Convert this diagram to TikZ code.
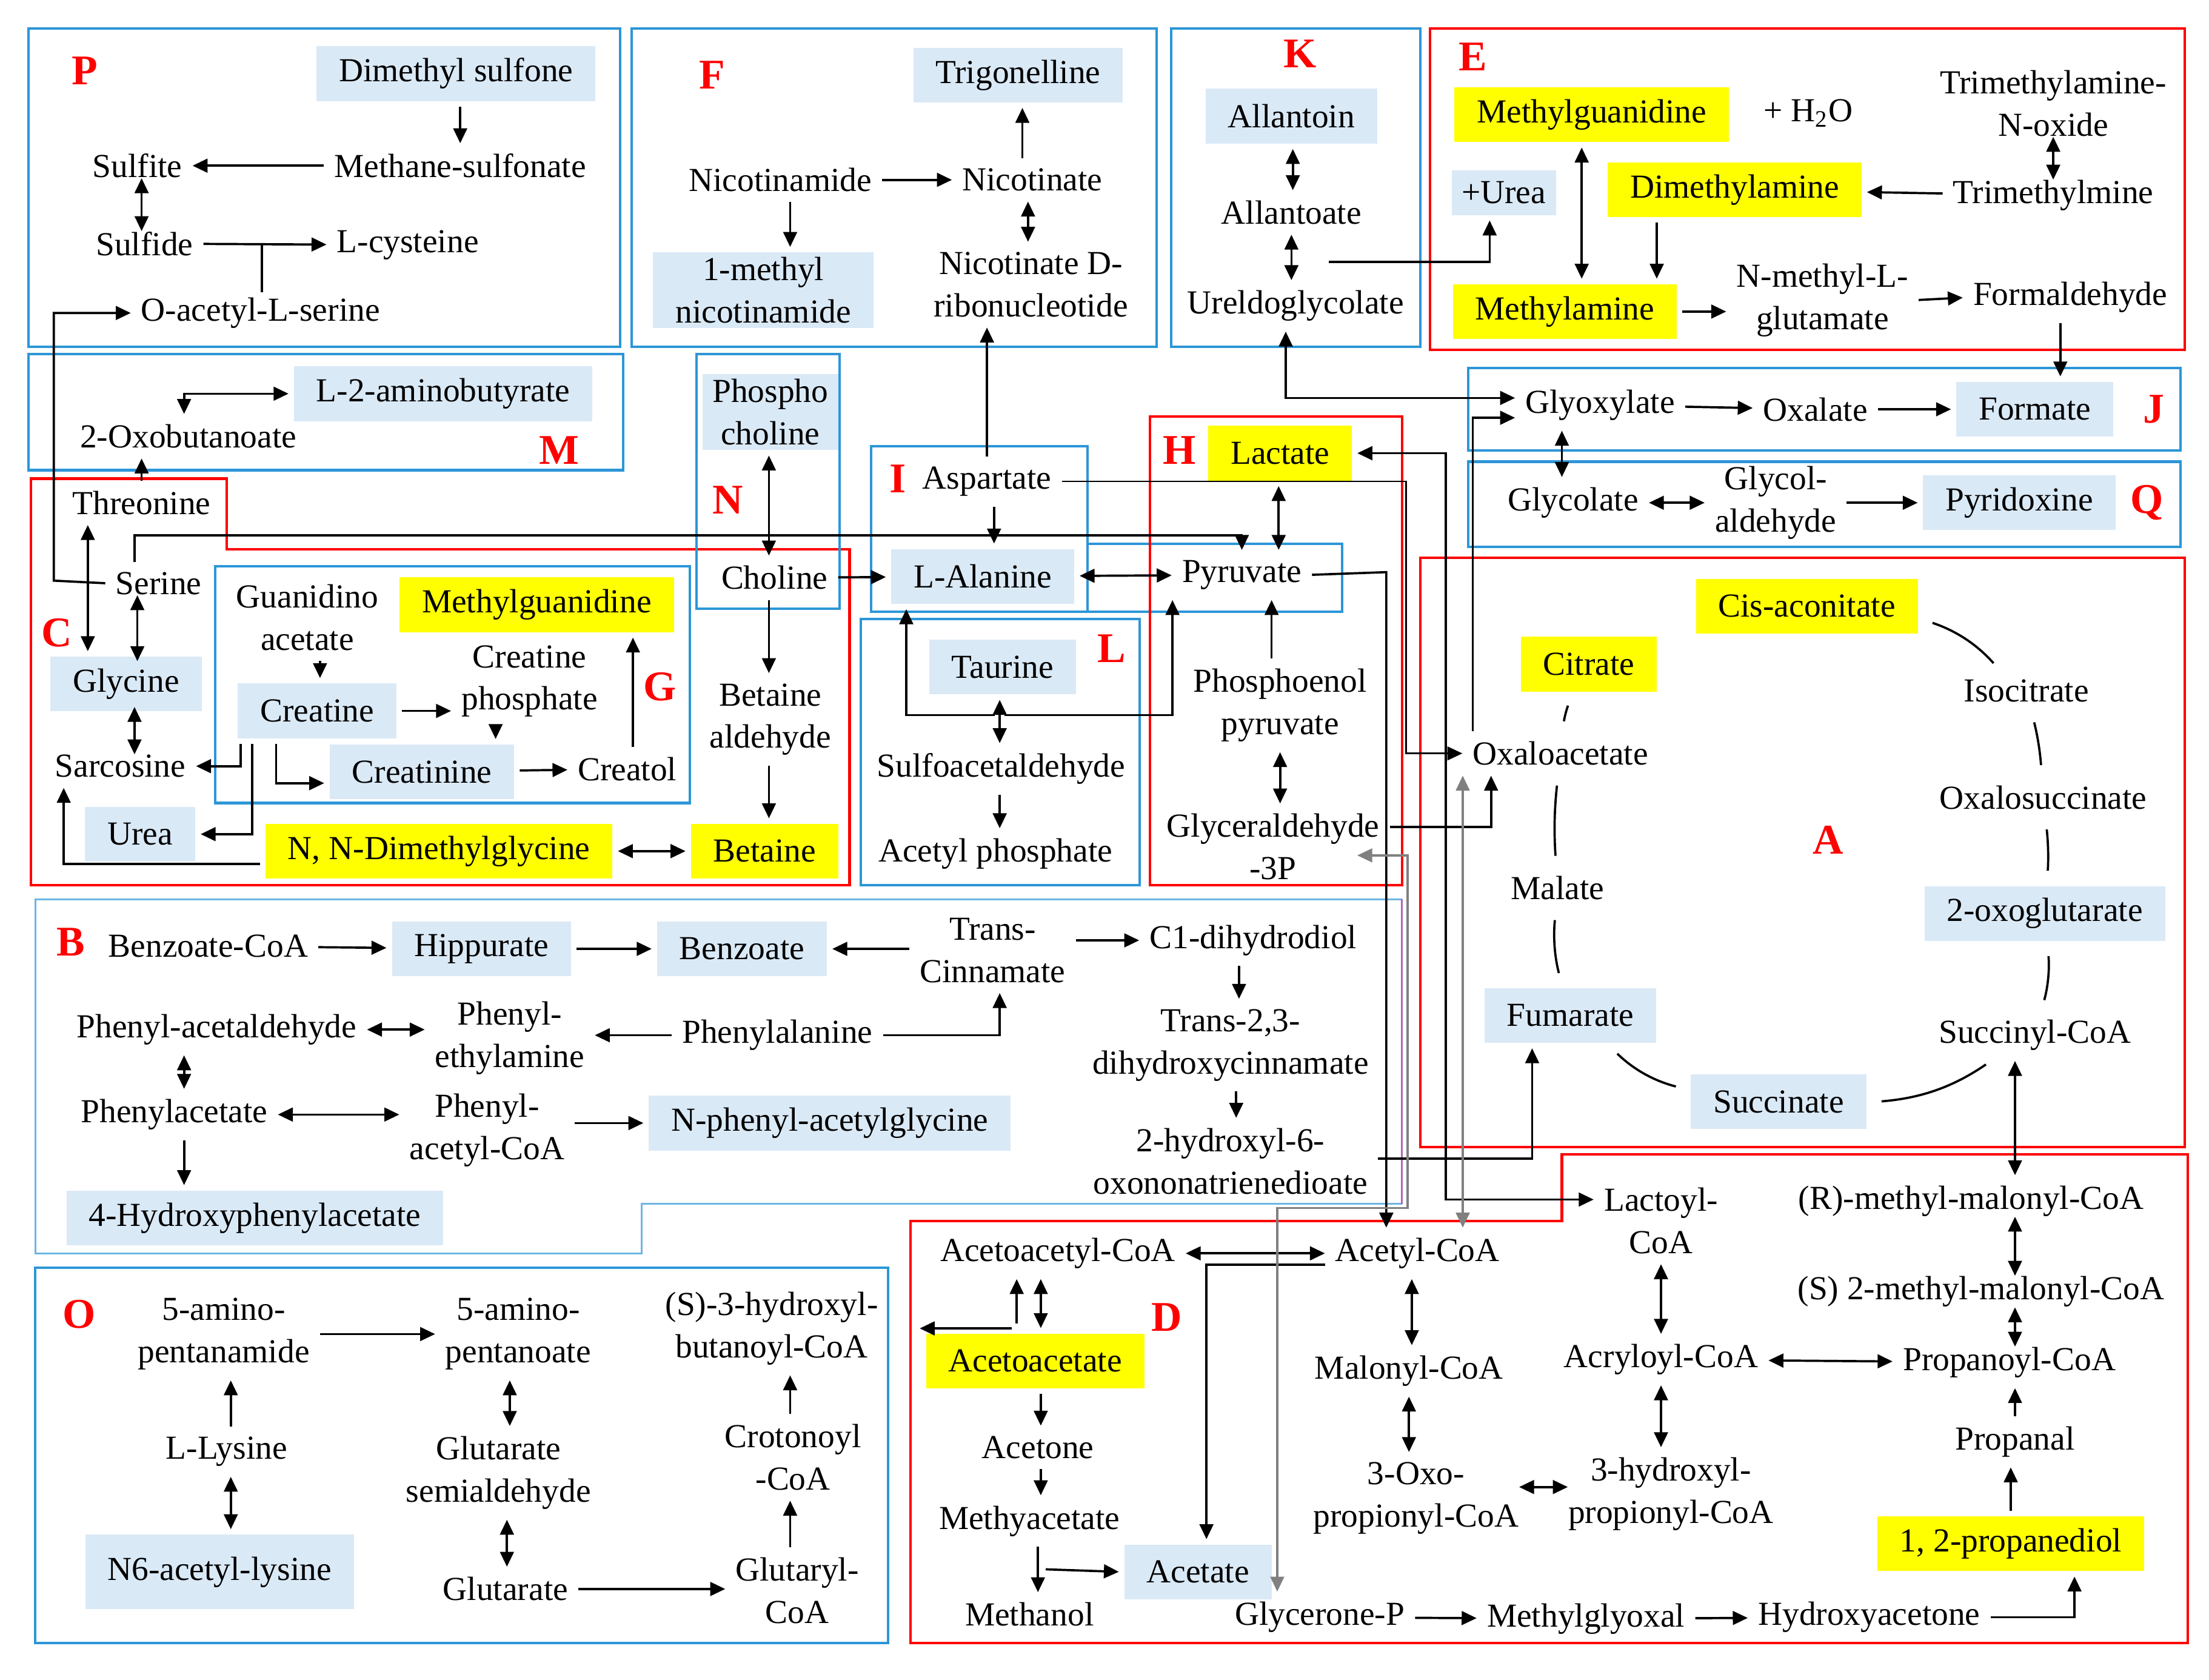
\documentclass[tikz,border=0pt]{standalone}
\usepackage{fontspec}
\setmainfont{Liberation Serif}
\usetikzlibrary{positioning,calc,arrows.meta}
\definecolor{lblue}{RGB}{218,233,246}
\definecolor{bframe}{RGB}{45,150,215}
\definecolor{hlyel}{RGB}{255,255,0}
\tikzset{
  met/.style={inner sep=2pt, align=center, font=\fontsize{13.5}{17}\selectfont},
  lb/.style={met, fill=lblue, inner xsep=9pt, minimum height=22pt},
  yl/.style={met, fill=hlyel, inner xsep=9pt, minimum height=22pt},
  tag/.style={text=red, font=\fontsize{17}{17}\selectfont\bfseries},
  bbox/.style={draw=bframe, line width=1pt},
  rbox/.style={draw=red, line width=1pt},
  rx/.style={-{Triangle[length=6pt,width=5.5pt]}, line width=0.9pt, shorten >=2pt, shorten <=2pt},
  rv/.style={{Triangle[length=6pt,width=5.5pt]}-{Triangle[length=6pt,width=5.5pt]}, line width=0.9pt, shorten >=2pt, shorten <=2pt},
  rvs/.style={rv, shorten >=-2pt, shorten <=-2pt},
  cyc/.style={line width=0.9pt, shorten >=6pt, shorten <=6pt},
}
\begin{document}
\begin{tikzpicture}[x=0.02cm,y=-0.02cm]
\useasboundingbox (0,0) rectangle (1560,1186);

% panel frames
\draw[bbox] (20,20) rectangle (438,245);
\draw[bbox] (20,250) rectangle (440,332);
\draw[rbox] (22,338) -- (160,338) -- (160,388) -- (600,388) -- (600,625) -- (22,625) -- cycle;
\draw[bbox] (152,400) rectangle (487,567);
\draw[bbox] (492,250) rectangle (593,430);
\draw[bbox] (446,20) rectangle (817,245);
\draw[bbox] (615,315) rectangle (768,432);
\draw[bbox] (768,384) rectangle (948,432);
\draw[rbox] (812,294) rectangle (990,625);
\draw[bbox] (608,437) rectangle (805,625);
\draw[bbox] (827,20) rectangle (1003,245);
\draw[rbox] (1010,20) rectangle (1543,247);
\draw[bbox] (1037,260) rectangle (1540,318);
\draw[bbox] (1037,326) rectangle (1540,386);
\draw[rbox] (1003,394) rectangle (1543,810);
\draw[draw=bframe!70, line width=0.8pt] (990,850) -- (453,850) -- (453,885) -- (25,885) -- (25,635) -- (990,635);
\draw[draw=violet!60, line width=0.8pt] (990,635) -- (990,850);
\draw[bbox] (25,895) rectangle (627,1160);
\draw[rbox] (643,862) -- (1103,862) -- (1103,815) -- (1545,815) -- (1545,1160) -- (643,1160) -- cycle;

% P
\node[tag] at (60,50) {P};
\node[lb] (dmsulf) at (322,52) {Dimethyl sulfone};
\node[met] (msulf) at (325,117) {Methane-sulfonate};
\node[met] (sulfite) at (97,117) {Sulfite};
\node[met] (sulfide) at (102,172) {Sulfide};
\node[met] (lcys) at (288,173) {L-cysteine};
\node[met] (oacser) at (184,221) {O-acetyl-L-serine};
\draw[rx] (dmsulf.south -| 325,0) -- (msulf.north -| 325,0);
\draw[rx] (msulf) -- (sulfite);
\draw[rvs] (sulfite.south -| 100,0) -- (sulfide.north -| 100,0);
\draw[rx] (sulfide) -- (lcys);
\draw[line width=0.9pt] (sulfide.east -| 185,0) -- (oacser.north -| 185,0);

% M
\node[tag] at (395,318) {M};
\node[lb] (abut) at (313,278) {L-2-aminobutyrate};
\node[met] (oxobut) at (133,308) {2-Oxobutanoate};
\draw[rv] (oxobut.north -| 130,0) |- (abut.west);

% C
\node[tag] at (40,447) {C};
\node[met] (thr) at (100,355) {Threonine};
\node[met] (serine) at (112,412) {Serine};
\node[lb] (glycine) at (89,483) {Glycine};
\node[met] (sarc) at (85,541) {Sarcosine};
\node[lb] (urea) at (99,589) {Urea};
\draw[rx] (thr.north -| 100,0) -- (oxobut.south -| 100,0);
\draw[rv] (thr.south -| 62,0) -- (glycine.north -| 62,0);
\draw[rvs] (serine.south -| 97,0) -- (glycine.north -| 97,0);
\draw[rvs] (glycine.south -| 95,0) -- (sarc.north -| 95,0);
\draw[rx] (serine.west) -- (38,410) |- (oacser.west);

% G
\node[tag] at (466,485) {G};
\node[met] (guac) at (217,436) {Guanidino\\acetate};
\node[yl] (mgua2) at (379,427) {Methylguanidine};
\node[met] (crp) at (374,481) {Creatine\\phosphate};
\node[lb] (creatine) at (224,502) {Creatine};
\node[lb] (creatinine) at (298,545) {Creatinine};
\node[met] (creatol) at (443,543) {Creatol};
\draw[rx] (guac.south -| 226,0) -- (creatine.north -| 226,0);
\draw[rx] (creatine.east) -- (crp.west |- creatine.east);
\draw[rx] (crp.south -| 350,0) -- (creatinine.north -| 350,0);
\draw[rx] (creatinine) -- (creatol);
\draw[rx] (creatol.north -| 447,0) -- (mgua2.south -| 447,0);
\draw[rx] (creatine.south -| 170,0) |- (sarc.east);
\draw[rx] (creatine.south -| 178,0) |- (urea.east);
\draw[rx] (creatine.south -| 195,0) |- (creatinine.west |- 0,553);
\node[yl] (nndmg) at (310,601) {N, N-Dimethylglycine};
\node[yl] (betaine) at (540,601) {Betaine};
\draw[rv] (nndmg) -- (betaine);
\draw[rx] (nndmg.west |- 0,610) -| (sarc.south -| 45,0);

% N
\node[tag] at (514,353) {N};
\node[lb, inner xsep=4pt] (pchol) at (544,291) {Phospho\\choline};
\node[met] (choline) at (547,408) {Choline};
\node[met] (betald) at (544,508) {Betaine\\aldehyde};
\draw[rv] (pchol.south -| 543,0) -- (choline.north -| 543,0);
\draw[rx] (choline.south -| 543,0) -- (betald.north -| 543,0);
\draw[rx] (betald.south -| 543,0) -- (betaine.north -| 543,0);

% F
\node[tag] at (503,53) {F};
\node[lb] (trig) at (719,53) {Trigonelline};
\node[met] (nicam) at (551,127) {Nicotinamide};
\node[met] (nicot) at (729,127) {Nicotinate};
\node[lb] (mnicam) at (539,205) {1-methyl\\nicotinamide};
\node[met] (nicrib) at (728,201) {Nicotinate D-\\ribonucleotide};
\draw[rx] (nicam) -- (nicot);
\draw[rx] (nicot.north -| 722,0) -- (trig.south -| 722,0);
\draw[rv] (nicot.south -| 726,0) -- (nicrib.north -| 726,0);
\draw[rx] (nicam.south -| 558,0) -- (mnicam.north -| 558,0);

% I
\node[tag] at (634,338) {I};
\node[met] (asp) at (697,340) {Aspartate};
\node[lb] (lala) at (694,407) {L-Alanine};
\draw[rx] (asp.north -| 697,0) -- (nicrib.south -| 697,0);
\draw[rx] (asp.south -| 702,0) -- (lala.north -| 702,0);
\draw[rx] (choline) -- (lala);

% H
\node[tag] at (833,318) {H};
\node[yl] (lact) at (904,320) {Lactate};
\node[met] (pyruv) at (877,406) {Pyruvate};
\node[met] (pep) at (904,498) {Phosphoenol\\pyruvate};
\node[met] (gald) at (899,598) {Glyceraldehyde\\-3P};
\coordinate (g3p) at (955,604);
\draw[rv] (lala) -- (pyruv);
\draw[rv] (lact.south -| 903,0) -- (pyruv.north -| 903,0);
\draw[rx] (pep.north -| 898,0) -- (pyruv.south -| 898,0);
\draw[rv] (pep.south -| 904,0) -- (gald.north -| 904,0);
\draw[rx] (serine.north -| 95,0) -- (95,378) -| (pyruv.north);

% L
\node[tag] at (785,458) {L};
\node[lb] (taur) at (708,471) {Taurine};
\node[met] (sulfo) at (707,543) {Sulfoacetaldehyde};
\node[met] (acp) at (703,603) {Acetyl phosphate};
\coordinate (tj) at (706,505);
\draw[rv] (taur.south -| 706,0) -- (sulfo.north -| 706,0);
\draw[rx] (sulfo.south -| 706,0) -- (acp.north -| 706,0);
\draw[rx] (tj) -- (640,505) -- (lala.south -| 640,0);
\draw[rx] (tj) -- (828,505) -- (pyruv.south -| 828,0);

% K
\node[tag] at (918,38) {K};
\node[lb] (allan) at (912,82) {Allantoin};
\node[met] (allat) at (912,150) {Allantoate};
\node[met] (urel) at (915,216) {Ureldoglycolate};
\coordinate (ku) at (935,185);
\draw[rv] (allan.south -| 913,0) -- (allat.north -| 913,0);
\draw[rv] (allat.south -| 912,0) -- (urel.north -| 912,0);

% E
\node[tag] at (1040,40) {E};
\node[yl] (mgua1) at (1124,81) {Methylguanidine};
\node[met] (h2o) at (1277,80) {+ H\textsubscript{2}O};
\node[met] (tmao) at (1450,73) {Trimethylamine-\\N-oxide};
\node[met] (tmm) at (1450,138) {Trimethylmine};
\node[yl] (dma) at (1225,134) {Dimethylamine};
\node[lb, inner xsep=4pt, minimum height=18pt] (purea) at (1062,136) {+Urea};
\node[yl] (mam) at (1105,220) {Methylamine};
\node[met] (nmg) at (1287,212) {N-methyl-L-\\glutamate};
\node[met] (fald) at (1462,210) {Formaldehyde};
\draw[rvs] (tmao.south) -- (tmm.north);
\draw[rx] (tmm) -- (dma);
\draw[rx] (dma.south -| 1170,0) -- (mam.north -| 1170,0);
\draw[rv] (mgua1.south -| 1117,0) -- (mam.north -| 1117,0);
\draw[rx] (mam.east) -- (nmg.west |- mam.east);
\draw[rx] (nmg.east) -- (fald.west);
\draw[rx] (ku) -| (purea.south -| 1052,0);

% J and Q
\node[tag] at (1521,289) {J};
\node[met] (glyox) at (1130,286) {Glyoxylate};
\node[met] (oxal) at (1282,289) {Oxalate};
\node[lb] (formate) at (1437,289) {Formate};
\node[tag] at (1516,355) {Q};
\node[met] (glycol) at (1111,355) {Glycolate};
\node[met] (glyald) at (1254,355) {Glycol-\\aldehyde};
\node[lb] (pyrid) at (1426,355) {Pyridoxine};
\draw[rx] (glyox) -- (oxal);
\draw[rx] (oxal) -- (formate);
\draw[rx] (fald.south -| 1455,0) -- (formate.north -| 1455,0);
\draw[rv] (glycol) -- (glyald);
\draw[rx] (glyald) -- (pyrid);
\draw[rv] (glyox.south -| 1103,0) -- (glycol.north -| 1103,0);
\draw[rv] (urel.south -| 908,0) |- (glyox.west |- 0,281);

% A
\node[tag] at (1291,593) {A};
\node[yl] (cisac) at (1276,428) {Cis-aconitate};
\node[yl] (cit) at (1122,469) {Citrate};
\node[met] (isocit) at (1431,488) {Isocitrate};
\node[met] (oxac) at (1102,532) {Oxaloacetate};
\node[met] (oxsuc) at (1443,563) {Oxalosuccinate};
\node[met] (malate) at (1100,627) {Malate};
\node[lb] (ogl) at (1444,645) {2-oxoglutarate};
\node[lb] (fum) at (1109,717) {Fumarate};
\node[met] (succoa) at (1437,731) {Succinyl-CoA};
\node[lb] (succ) at (1256,778) {Succinate};
\draw[cyc] (oxac) to[bend left=10] (cit);
\draw[cyc] (cisac) to[bend left=15] (isocit);
\draw[cyc] (isocit) to[bend left=5] (oxsuc);
\draw[cyc] (oxsuc) to[bend left=5] (ogl);
\draw[cyc] (ogl) to[bend left=10] (succoa);
\draw[cyc] (succoa) to[bend left=15] (succ);
\draw[cyc] (succ) to[bend left=15] (fum);
\draw[cyc] (fum) to[bend left=10] (malate);
\draw[cyc] (malate) to[bend left=5] (oxac);

% B
\node[tag] at (50,665) {B};
\node[met] (bzcoa) at (147,668) {Benzoate-CoA};
\node[lb] (hipp) at (340,670) {Hippurate};
\node[lb] (bz) at (524,670) {Benzoate};
\node[met] (tcin) at (701,671) {Trans-\\Cinnamate};
\node[met] (c1d) at (885,664) {C1-dihydrodiol};
\node[met] (pacal) at (153,727) {Phenyl-acetaldehyde};
\node[met] (pea) at (360,733) {Phenyl-\\ethylamine};
\node[met] (phe) at (549,731) {Phenylalanine};
\node[met] (t23) at (869,738) {Trans-2,3-\\dihydroxycinnamate};
\node[met] (hod) at (869,820) {2-hydroxyl-6-\\oxononatrienedioate};
\node[met] (pac) at (123,787) {Phenylacetate};
\node[met] (pacoa) at (344,798) {Phenyl-\\acetyl-CoA};
\node[lb] (napg) at (586,793) {N-phenyl-acetylglycine};
\node[lb] (hpa) at (180,860) {4-Hydroxyphenylacetate};
\draw[rx] (bzcoa) -- (hipp);
\draw[rx] (hipp) -- (bz);
\draw[rx] (tcin.west |- bz) -- (bz);
\draw[rx] (tcin.east |- c1d) -- (c1d);
\draw[rx] (c1d.south -| 875,0) -- (t23.north -| 875,0);
\draw[rx] (t23.south -| 873,0) -- (hod.north -| 873,0);
\draw[rv] (pacal.east) -- (pea.west |- pacal.east);
\draw[rx] (phe.west) -- (pea.east |- phe.west);
\draw[rx] (phe.east) -| (tcin.south -| 706,0);
\draw[rv] (pacal.south -| 130,0) -- (pac.north -| 130,0);
\draw[rv] (pac.east) -- (pacoa.west |- pac.east);
\draw[rx] (pacoa.east |- napg) -- (napg);
\draw[rx] (pac.south -| 130,0) -- (hpa.north -| 130,0);
\draw[rx] (hod.east |- 0,818) -| (fum.south -| 1082,0);

% O
\node[tag] at (56,928) {O};
\node[met] (apm) at (158,942) {5-amino-\\pentanamide};
\node[met] (apo) at (366,942) {5-amino-\\pentanoate};
\node[met] (shb) at (545,938) {(S)-3-hydroxyl-\\butanoyl-CoA};
\node[met] (lys) at (160,1025) {L-Lysine};
\node[lb, minimum height=30pt] (n6) at (155,1110) {N6-acetyl-lysine};
\node[met] (gsa) at (352,1040) {Glutarate\\semialdehyde};
\node[met] (glut) at (357,1122) {Glutarate};
\node[met] (glutcoa) at (563,1123) {Glutaryl-\\CoA};
\node[met] (crot) at (560,1029) {Crotonoyl\\-CoA};
\draw[rx] (apm) -- (apo);
\draw[rx] (lys.north -| 163,0) -- (apm.south -| 163,0);
\draw[rv] (lys.south -| 163,0) -- (n6.north -| 163,0);
\draw[rv] (apo.south -| 360,0) -- (gsa.north -| 360,0);
\draw[rv] (gsa.south -| 358,0) -- (glut.north -| 358,0);
\draw[rx] (glut.east) -- (glutcoa.west |- glut.east);
\draw[rx] (glutcoa.north -| 558,0) -- (crot.south -| 558,0);
\draw[rx] (crot.north -| 558,0) -- (shb.south -| 558,0);

% D and propanoate
\node[tag] at (824,930) {D};
\node[met] (aacoa) at (747,885) {Acetoacetyl-CoA};
\node[met] (acoa) at (1001,885) {Acetyl-CoA};
\node[yl] (aac) at (731,961) {Acetoacetate};
\node[met] (acetone) at (733,1022) {Acetone};
\node[met] (meac) at (727,1074) {Methyacetate};
\node[met] (meoh) at (727,1140) {Methanol};
\node[lb] (acet) at (846,1110) {Acetate};
\node[met] (malcoa) at (995,968) {Malonyl-CoA};
\node[met] (oxpc) at (1000,1058) {3-Oxo-\\propionyl-CoA};
\node[met] (hpc) at (1180,1055) {3-hydroxyl-\\propionyl-CoA};
\node[met] (acrc) at (1173,960) {Acryloyl-CoA};
\node[met] (lactoyl) at (1173,862) {Lactoyl-\\CoA};
\node[met] (propc) at (1419,962) {Propanoyl-CoA};
\node[met] (rmm) at (1392,848) {(R)-methyl-malonyl-CoA};
\node[met] (smm) at (1399,912) {(S) 2-methyl-malonyl-CoA};
\node[met] (propal) at (1423,1018) {Propanal};
\node[yl] (pdiol) at (1420,1090) {1, 2-propanediol};
\node[met] (glyp) at (932,1142) {Glycerone-P};
\node[met] (mgly) at (1120,1143) {Methylglyoxal};
\node[met] (hyac) at (1320,1142) {Hydroxyacetone};
\coordinate (dj) at (718,938);
\coordinate (dl) at (646,938);
\coordinate (mj) at (735,1108);
\draw[rv] (aacoa) -- (acoa);
\draw[rv] (aacoa.south -| 735,0) -- (aac.north -| 735,0);
\draw[rx] (dj) -- (aacoa.south -| 718,0);
\draw[rx] (dj) -- (dl);
\draw[rx] (aac.south -| 735,0) -- (acetone.north -| 735,0);
\draw[rx] (acetone.south -| 735,0) -- (meac.north -| 735,0);
\draw[rx] (meac.south -| 733,0) -- (meoh.north -| 733,0);
\draw[rx] (mj) -- (acet.west);
\draw[rx] (acoa.west |- 0,893) -| (acet.north -| 852,0);
\draw[rx] (pyruv.east) -- (979,404) -- (acoa.north -| 979,0);
\draw[rv] (acoa.south -| 997,0) -- (malcoa.north -| 997,0);
\draw[rv] (malcoa.south -| 995,0) -- (oxpc.north -| 995,0);
\draw[rvs] (oxpc.east |- 0,1050) -- (hpc.west |- 0,1050);
\draw[rv] (lactoyl.south) -- (acrc.north);
\draw[rv] (acrc.south) -- (hpc.north -| acrc.south);
\draw[rv] (acrc) -- (propc);
\draw[rv] (succoa.south -| 1423,0) -- (rmm.north -| 1423,0);
\draw[rvs] (rmm.south -| 1423,0) -- (smm.north -| 1423,0);
\draw[rvs] (smm.south -| 1423,0) -- (propc.north -| 1423,0);
\draw[rx] (propal.north -| 1423,0) -- (propc.south -| 1423,0);
\draw[rx] (pdiol.north -| 1420,0) -- (propal.south -| 1420,0);
\draw[rx] (glyp) -- (mgly);
\draw[rx] (mgly) -- (hyac);
\draw[rx] (hyac.east) -| (pdiol.south -| 1465,0);

% long connectors round the TCA cycle
\draw[rx, line width=0.6pt] (asp.east) -- (993,340) |- (oxac.west);
\draw[rv] (lact.east) -- (1021,320) |- (lactoyl.west |- 0,847);
\draw[rx] (gald.east |- 0,584) -| (oxac.south -| 1053,0);
\draw[rv, draw=gray, line width=0.8pt] (g3p) -- (994,604) -- (994,853) -- (902,853) -- (glyp.north -| 902,0);
\draw[rv, draw=gray, line width=0.8pt] (oxac.south -| 1033,0) -- (acoa.north -| 1033,0);
\draw[rx] (oxac.north -| 1040,0) |- (glyox.west |- 0,295);
\end{tikzpicture}
\end{document}
